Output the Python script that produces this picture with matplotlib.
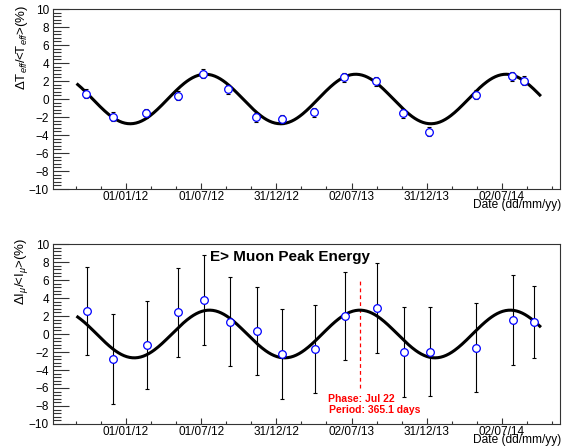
import numpy as np
import matplotlib
matplotlib.use("Agg")
import matplotlib.pyplot as plt

plt.rcParams['font.family'] = ['Liberation Sans', 'DejaVu Sans']
plt.rcParams['mathtext.fontset'] = 'custom'
plt.rcParams['mathtext.rm'] = 'Liberation Sans'
plt.rcParams['mathtext.it'] = 'Liberation Sans:italic'

# effective temperature variation (top panel)
teff_dates = ['2011-09-27', '2011-11-30', '2012-02-20', '2012-05-06', '2012-07-07',
              '2012-09-06', '2012-11-13', '2013-01-14', '2013-04-01', '2013-06-13',
              '2013-08-30', '2013-11-04', '2014-01-07', '2014-04-29', '2014-07-27',
              '2014-08-25']
teff_vals = [0.6, -1.95, -1.6, 0.35, 2.8, 1.1, -2.0, -2.25, -1.45, 2.4,
             2.0, -1.6, -3.65, 0.45, 2.55, 2.05]
teff_errs = [0.5] * 16

# muon intensity variation (bottom panel)
mu_dates = ['2011-09-28', '2011-12-01', '2012-02-21', '2012-05-07', '2012-07-08',
            '2012-09-09', '2012-11-15', '2013-01-15', '2013-04-03', '2013-06-16',
            '2013-09-01', '2013-11-06', '2014-01-09', '2014-04-30', '2014-07-28',
            '2014-09-18']
mu_vals = [2.55, -2.8, -1.2, 2.4, 3.8, 1.35, 0.37, -2.25, -1.7, 2.0,
           2.9, -2.05, -1.95, -1.5, 1.6, 1.37]
mu_errs = [4.9, 5.0, 4.9, 4.9, 5.0, 4.95, 4.9, 5.0, 4.9, 4.9,
           5.0, 5.0, 4.9, 4.9, 5.0, 4.0]

# sine fit parameters: amplitude (%), date of maximum, period (days)
teff_fit = (2.75, '2012-07-12', 365.0)
mu_fit = (2.65, '2013-07-22', 365.1)
fit_range = ('2011-09-06', '2014-10-02')

tick_labels = ['01/01/12', '01/07/12', '31/12/12', '02/07/13', '31/12/13', '02/07/14']
origin = np.datetime64('2012-01-01')


def to_days(d):
    return (np.array(d, dtype='datetime64[D]') - origin).astype(float)


def fit_curve(p):
    amp, peak, period = p
    t = np.linspace(to_days(fit_range[0]), to_days(fit_range[1]), 500)
    return t, amp * np.cos(2 * np.pi * (t - to_days(peak)) / period)


W, H = 566, 447
fig = plt.figure(figsize=(W / 100, H / 100), dpi=100)
ax1 = fig.add_axes([53 / W, 1 - 189 / H, 507 / W, 180 / H])
ax2 = fig.add_axes([53 / W, 1 - 424 / H, 507 / W, 180 / H])

step = 182.6
xmin, xmax = -177, 1054

for ax, dates, vals, errs, fit in [(ax1, teff_dates, teff_vals, teff_errs, teff_fit),
                                   (ax2, mu_dates, mu_vals, mu_errs, mu_fit)]:
    t, y = fit_curve(fit)
    ax.plot(t, y, color='black', lw=2.2, zorder=2)
    ax.errorbar(to_days(dates), vals, yerr=errs, fmt='none', ecolor='black',
                elinewidth=0.8, capsize=1.5, capthick=0.8, zorder=3)
    ax.plot(to_days(dates), vals, 'o', mfc='white', mec='blue', ms=5.5, mew=0.9, zorder=4)

    ax.set_xlim(xmin, xmax)
    ax.set_ylim(-10, 10)
    ax.set_xticks(np.arange(6) * step)
    ax.set_xticklabels(tick_labels)
    minor = np.arange(-3, 20) * step / 3
    ax.set_xticks(minor[(minor > xmin) & (minor < xmax)], minor=True)
    ax.set_yticks(np.arange(-10, 11, 2))
    ax.set_yticks(np.arange(-10, 10.01, 0.4), minor=True)
    ax.tick_params(axis='both', which='both', direction='in', labelsize=8.5,
                   top=False, right=False, color='#333333')
    ax.tick_params(axis='y', which='major', length=11.5, width=0.8, pad=3)
    ax.tick_params(axis='y', which='minor', length=5.8, width=0.8)
    ax.tick_params(axis='x', which='major', length=4.3, width=0.8, pad=1.5)
    ax.tick_params(axis='x', which='minor', length=2.2, width=0.8)
    for s in ax.spines.values():
        s.set_linewidth(0.8)
        s.set_color('#333333')
    ax.text(1.002, -22 / 180, 'Date (dd/mm/yy)', transform=ax.transAxes, ha='right',
            va='bottom', fontsize=8.6)

fig.text(22 / W, 1 - 5 / H, r'$\Delta$T$_{eff}$/<T$_{eff}$>(%)', rotation=90,
         ha='center', va='top', fontsize=9.5)
fig.text(22 / W, 1 - 238 / H, r'$\Delta$I$_{\mu}$/<I$_{\mu}$>(%)', rotation=90,
         ha='center', va='top', fontsize=9.5)

ax2.text((210 - 53) / 507, (424 - 257) / 180, 'E> Muon Peak Energy',
         transform=ax2.transAxes, fontsize=11, fontweight='bold', va='center')

peak_day = to_days(mu_fit[1])
ax2.plot([peak_day, peak_day], [-6, 5.9], color='red', lw=0.9, ls=(0, (3, 2.5)), zorder=1)
ax2.text((328 - 53) / 507, (424 - 398.7) / 180, 'Phase: Jul 22', transform=ax2.transAxes,
         color='red', fontsize=7.5, fontweight='bold', va='center')
ax2.text((329 - 53) / 507, (424 - 410) / 180, 'Period: 365.1 days', transform=ax2.transAxes,
         color='red', fontsize=7.5, fontweight='bold', va='center')

fig.savefig('out.png', dpi=100)
